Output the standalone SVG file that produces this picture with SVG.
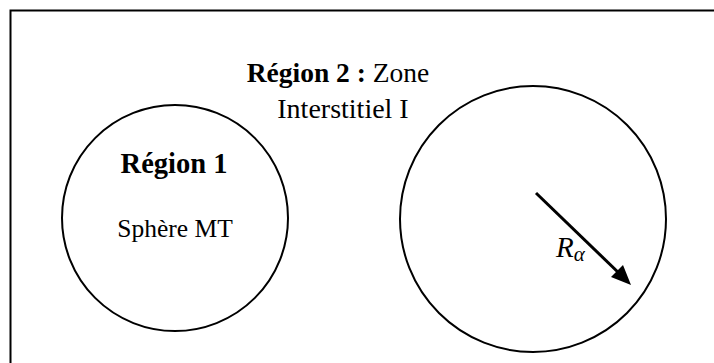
<svg xmlns="http://www.w3.org/2000/svg" width="714" height="363" viewBox="0 0 714 363">
<style>
.shape{fill:none;stroke:#000;stroke-width:2}
.t{font-family:"Liberation Serif","Times New Roman",serif;fill:#000}
</style>
<rect width="714" height="363" fill="#fff"/>
<rect x="10.5" y="10.5" width="730" height="380" class="shape" stroke-width="2.5"/>
<g id="region2">
<text class="t" x="338" y="82" font-size="27.5" text-anchor="middle"><tspan font-weight="bold">Région 2 :</tspan> Zone</text>
<text class="t" x="343" y="118" font-size="28" text-anchor="middle">Interstitiel I</text>
</g>
<g id="region1">
<circle cx="175" cy="218" r="113" class="shape"/>
<text class="t" x="174" y="173" font-size="28.5" font-weight="bold" text-anchor="middle">Région 1</text>
<text class="t" x="175" y="237" font-size="25.5" text-anchor="middle">Sphère MT</text>
</g>
<g id="sphere2">
<circle cx="533" cy="219" r="133" class="shape"/>
</g>
<g id="connectors">
<line x1="536" y1="193" x2="622" y2="276" stroke="#000" stroke-width="3"/>
<path d="M631,285 L611,277 L623,265 z" fill="#000"/>
<text class="t" x="556" y="257" font-size="29" font-style="italic">R<tspan font-size="21" dy="4">α</tspan></text>
</g>
</svg>
